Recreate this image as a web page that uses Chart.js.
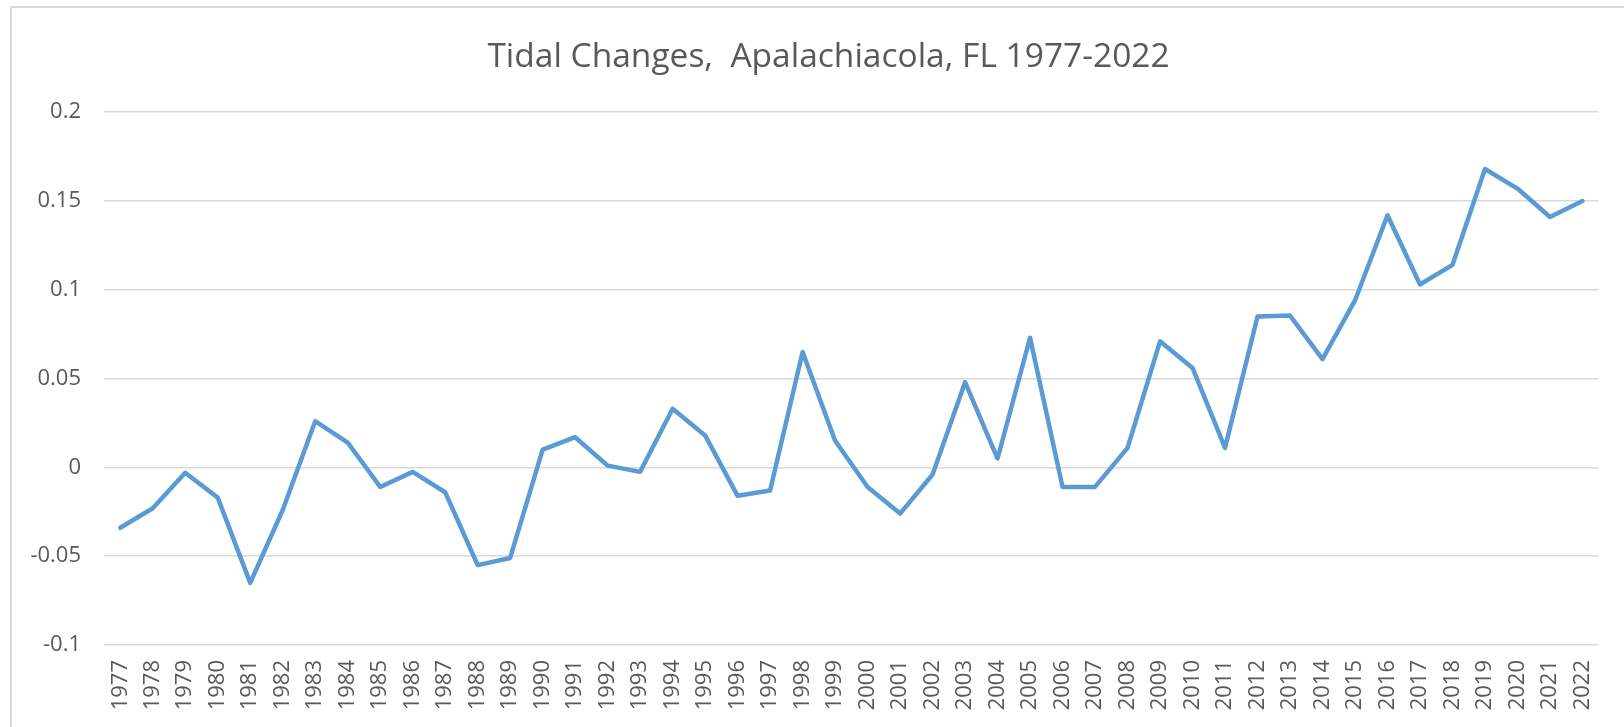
<!DOCTYPE html>
<html>
<head>
<meta charset="utf-8">
<script src="https://cdn.jsdelivr.net/npm/chart.js@4/dist/chart.umd.min.js"></script>
<style>
  html, body { margin: 0; padding: 0; background: #fff; overflow: hidden; }
  #wrap { position: relative; width: 1624px; height: 727px; }
  #frame {
    position: absolute; left: 10px; top: 6px; width: 1700px; height: 800px;
    border: 2px solid #d9d9d9; box-sizing: border-box;
  }
  #chart { position: absolute; left: 0; top: 0; }
</style>
</head>
<body>
<div id="wrap">
  <div id="frame"></div>
  <canvas id="chart" width="1624" height="727"></canvas>
</div>
<script>
const years = [
  "1977", "1978", "1979", "1980", "1981", "1982", "1983", "1984", "1985", "1986",
  "1987", "1988", "1989", "1990", "1991", "1992", "1993", "1994", "1995", "1996",
  "1997", "1998", "1999", "2000", "2001", "2002", "2003", "2004", "2005", "2006",
  "2007", "2008", "2009", "2010", "2011", "2012", "2013", "2014", "2015", "2016",
  "2017", "2018", "2019", "2020", "2021", "2022"
];

// tidal change per year
const tidalChange = [
  -0.034, -0.023, -0.003, -0.017, -0.065, -0.024, 0.026, 0.014, -0.011, -0.0025,
  -0.014, -0.055, -0.051, 0.010, 0.017, 0.001, -0.0025, 0.033, 0.018, -0.016,
  -0.013, 0.065, 0.015, -0.011, -0.026, -0.004, 0.048, 0.005, 0.073, -0.011,
  -0.011, 0.011, 0.071, 0.056, 0.011, 0.085, 0.0855, 0.061, 0.094, 0.142,
  0.103, 0.114, 0.168, 0.157, 0.141, 0.150
];

const yTicks = [-0.1, -0.05, 0, 0.05, 0.1, 0.15, 0.2];

const textColor = "#595959";
const gridColor = "#d9d9d9";
const fontFamily = "'Open Sans', sans-serif";

// the Excel title sits a bit right of the canvas centre
const shiftTitle = {
  id: "shiftTitle",
  afterLayout: (chart) => {
    if (chart.titleBlock) {
      chart.titleBlock.left += 23;
      chart.titleBlock.right += 23;
    }
  },
};

const ctx = document.getElementById("chart").getContext("2d");

window.tidalChart = new Chart(ctx, {
  type: "line",
  data: {
    labels: years,
    datasets: [
      {
        label: "Tidal Changes",
        data: tidalChange,
        borderColor: "#5b9bd5",
        borderWidth: 4.5,
        borderJoinStyle: "round",
        borderCapStyle: "round",
        pointRadius: 0,
        tension: 0,
        fill: false,
      },
    ],
  },
  options: {
    responsive: false,
    animation: false,
    layout: { padding: { left: 0, right: 13, top: 0, bottom: 0 } },
    plugins: {
      legend: { display: false },
      tooltip: { enabled: false },
      title: {
        display: true,
        text: "Tidal Changes,  Apalachiacola, FL 1977-2022",
        color: textColor,
        font: { family: fontFamily, size: 33.5, weight: "normal", lineHeight: 1.2 },
        padding: { top: 37, bottom: 35 },
      },
    },
    scales: {
      x: {
        offset: true,
        grid: { display: false, drawTicks: false },
        border: { display: false },
        ticks: {
          color: textColor,
          font: { family: fontFamily, size: 22 },
          minRotation: 90,
          maxRotation: 90,
          autoSkip: false,
          padding: 15,
        },
        afterFit: (scale) => {
          scale.height = 82;
        },
      },
      y: {
        min: -0.1,
        max: 0.2,
        afterBuildTicks: (scale) => {
          scale.ticks = yTicks.map((v) => ({ value: v }));
        },
        grid: { color: gridColor, lineWidth: 1.5, drawTicks: false },
        border: { display: false },
        ticks: {
          color: textColor,
          font: { family: fontFamily, size: 22 },
          padding: 23,
          callback: (value) => String(Math.round(value * 100) / 100),
        },
        afterFit: (scale) => {
          scale.width = 104;
        },
      },
    },
  },
  plugins: [shiftTitle],
});
</script>
</body>
</html>
